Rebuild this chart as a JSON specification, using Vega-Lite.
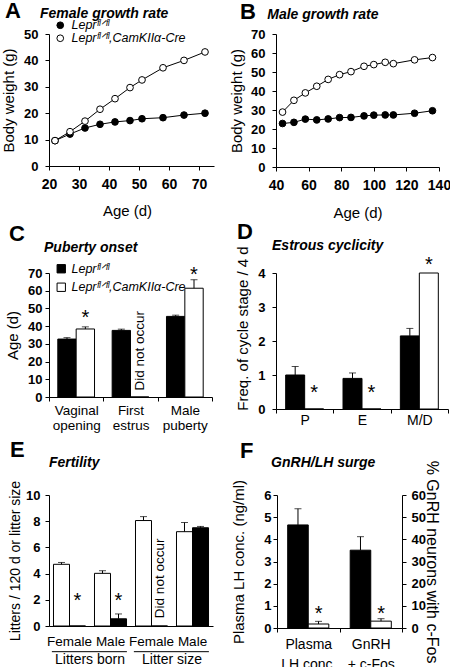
{
  "$schema": "https://vega.github.io/schema/vega-lite/v6.json",
  "padding": {"left": 1, "top": 0, "right": 0, "bottom": 0},
  "background": "white",
  "config": {
    "font": "Liberation Sans",
    "view": {"stroke": null},
    "axis": {"domainColor": "black", "domainWidth": 1, "tickColor": "black", "tickWidth": 1, "tickSize": 4, "labelColor": "black", "labelFont": "Liberation Sans", "labelFontSize": 13, "labelFontWeight": "bold", "titleColor": "black", "titleFont": "Liberation Sans", "titleFontSize": 15, "titleFontWeight": "normal", "grid": false, "labelOverlap": false, "labelFlush": false},
    "axisX": {"labelOverlap": false},
    "axisY": {"labelOverlap": false},
    "axisQuantitative": {"labelOverlap": false},
    "title": {"anchor": "start", "frame": "group", "font": "Liberation Sans", "fontSize": 22, "fontWeight": "bold", "color": "black", "subtitleFont": "Liberation Sans", "subtitleFontSize": 14, "subtitleFontWeight": "bold", "subtitleFontStyle": "italic", "subtitleColor": "black"},
    "legend": {"labelFont": "Liberation Sans", "labelColor": "black", "labelFontStyle": "italic", "labelFontSize": 12.5}
  },
  "datasets": {
    "growthF": [
      {"age": 22, "geno": "ctrl", "wt": 9.6}, {"age": 27, "geno": "ctrl", "wt": 12.1}, {"age": 32, "geno": "ctrl", "wt": 14.4}, {"age": 37, "geno": "ctrl", "wt": 15.8}, {"age": 42, "geno": "ctrl", "wt": 16.7}, {"age": 47, "geno": "ctrl", "wt": 17.2}, {"age": 51, "geno": "ctrl", "wt": 17.9}, {"age": 58, "geno": "ctrl", "wt": 18.3}, {"age": 65, "geno": "ctrl", "wt": 19.3}, {"age": 72, "geno": "ctrl", "wt": 20.0},
      {"age": 22, "geno": "cre", "wt": 9.6}, {"age": 27, "geno": "cre", "wt": 13.0}, {"age": 32, "geno": "cre", "wt": 17.0}, {"age": 37, "geno": "cre", "wt": 21.5}, {"age": 42, "geno": "cre", "wt": 25.5}, {"age": 47, "geno": "cre", "wt": 29.7}, {"age": 51, "geno": "cre", "wt": 32.6}, {"age": 58, "geno": "cre", "wt": 37.2}, {"age": 65, "geno": "cre", "wt": 40.0}, {"age": 72, "geno": "cre", "wt": 43.2}
    ],
    "starsF": [{"age": 32}, {"age": 37}, {"age": 42}, {"age": 47}, {"age": 51}, {"age": 58}, {"age": 65}, {"age": 72}],
    "growthM": [
      {"age": 44, "geno": "ctrl", "wt": 22.9}, {"age": 51, "geno": "ctrl", "wt": 23.5}, {"age": 58, "geno": "ctrl", "wt": 25.2}, {"age": 65, "geno": "ctrl", "wt": 24.8}, {"age": 72, "geno": "ctrl", "wt": 25.3}, {"age": 79, "geno": "ctrl", "wt": 26.0}, {"age": 86, "geno": "ctrl", "wt": 26.1}, {"age": 94, "geno": "ctrl", "wt": 26.9}, {"age": 100, "geno": "ctrl", "wt": 27.3}, {"age": 107, "geno": "ctrl", "wt": 27.4}, {"age": 112, "geno": "ctrl", "wt": 27.4}, {"age": 125, "geno": "ctrl", "wt": 28.3}, {"age": 136, "geno": "ctrl", "wt": 29.6},
      {"age": 44, "geno": "cre", "wt": 28.9}, {"age": 51, "geno": "cre", "wt": 35.1}, {"age": 58, "geno": "cre", "wt": 39.0}, {"age": 65, "geno": "cre", "wt": 42.5}, {"age": 72, "geno": "cre", "wt": 46.1}, {"age": 79, "geno": "cre", "wt": 48.6}, {"age": 86, "geno": "cre", "wt": 50.2}, {"age": 94, "geno": "cre", "wt": 53.0}, {"age": 100, "geno": "cre", "wt": 53.9}, {"age": 107, "geno": "cre", "wt": 55.1}, {"age": 112, "geno": "cre", "wt": 54.4}, {"age": 125, "geno": "cre", "wt": 56.4}, {"age": 136, "geno": "cre", "wt": 57.6}
    ],
    "starsM": [{"age": 44}, {"age": 51}, {"age": 58}, {"age": 65}, {"age": 72}, {"age": 79}, {"age": 86}, {"age": 94}, {"age": 100}, {"age": 107}, {"age": 112}, {"age": 125}, {"age": 136}],
    "puberty": [
      {"cat": "Vaginal opening", "geno": "ctrl", "mean": 32.7, "hi": 33.5},
      {"cat": "Vaginal opening", "geno": "cre", "mean": 38.4, "hi": 39.6, "star": 46.9},
      {"cat": "First estrus", "geno": "ctrl", "mean": 37.6, "hi": 38.3},
      {"cat": "First estrus", "geno": "cre", "mean": 0, "note": "Did not occur"},
      {"cat": "Male puberty", "geno": "ctrl", "mean": 45.5, "hi": 46.2},
      {"cat": "Male puberty", "geno": "cre", "mean": 61.4, "hi": 66.2, "star": 71.3}
    ],
    "estrous": [
      {"stage": "P", "geno": "ctrl", "mean": 1.0, "hi": 1.25},
      {"stage": "P", "geno": "cre", "mean": 0, "star": 0.59},
      {"stage": "E", "geno": "ctrl", "mean": 0.9, "hi": 1.06},
      {"stage": "E", "geno": "cre", "mean": 0, "star": 0.59},
      {"stage": "M/D", "geno": "ctrl", "mean": 2.15, "hi": 2.37},
      {"stage": "M/D", "geno": "cre", "mean": 4.0, "star": 4.36}
    ],
    "fertility": [
      {"cat": "Litters born|Female", "geno": "ctrl", "mean": 4.71, "hi": 4.85},
      {"cat": "Litters born|Female", "geno": "cre", "mean": 0, "star": 2.24},
      {"cat": "Litters born|Male", "geno": "ctrl", "mean": 4.02, "hi": 4.22},
      {"cat": "Litters born|Male", "geno": "cre", "mean": 0.55, "hi": 0.92, "star": 2.24},
      {"cat": "Litter size|Female", "geno": "ctrl", "mean": 8.05, "hi": 8.35},
      {"cat": "Litter size|Female", "geno": "cre", "mean": 0, "note": "Did not occur"},
      {"cat": "Litter size|Male", "geno": "ctrl", "mean": 7.2, "hi": 7.9},
      {"cat": "Litter size|Male", "geno": "cre", "mean": 7.5, "hi": 7.6}
    ],
    "fertGroups": [
      {"group": "Litters born", "first": "Litters born|Female", "last": "Litters born|Male"},
      {"group": "Litter size", "first": "Litter size|Female", "last": "Litter size|Male"}
    ],
    "surgeLH": [
      {"cat": "Plasma LH conc.", "geno": "ctrl", "mean": 4.65, "hi": 5.38},
      {"cat": "Plasma LH conc.", "geno": "cre", "mean": 0.18, "hi": 0.3, "star": 0.8}
    ],
    "surgeFos": [
      {"cat": "GnRH + c-Fos", "geno": "ctrl", "mean": 35.1, "hi": 41.2},
      {"cat": "GnRH + c-Fos", "geno": "cre", "mean": 3.1, "hi": 4.2, "star": 8.0}
    ]
  },
  "spacing": 1,
  "resolve": {"scale": {"fill": "independent", "xOffset": "independent"}, "legend": {"fill": "independent"}},
  "vconcat": [
    {
      "spacing": 14,
      "resolve": {"scale": {"fill": "independent", "xOffset": "independent"}, "legend": {"fill": "independent"}},
      "hconcat": [
        {
          "width": 165, "height": 132,
          "title": {"text": "A", "subtitle": "\u200b\u00a0\u00a0\u00a0\u00a0\u00a0\u00a0\u00a0\u00a0\u00a0Female growth rate", "dx": -44, "subtitlePadding": -15.6, "offset": -4},
          "encoding": {
            "x": {"field": "age", "type": "quantitative", "scale": {"domain": [20, 75], "nice": false, "zero": false}, "axis": {"values": [20, 30, 40, 50, 60, 70], "title": "Age (d)", "labelFontSize": 14, "labelFontWeight": "bold", "labelOverlap": false, "labelFlush": false, "labelPadding": 7, "titleX": 78, "titleY": 44, "titleBaseline": "middle"}},
            "y": {"field": "wt", "type": "quantitative", "scale": {"domain": [0, 50], "nice": false}, "axis": {"values": [0, 10, 20, 30, 40, 50], "title": "Body weight (g)", "labelFontSize": 13, "labelFontWeight": "bold", "labelOverlap": false, "labelFlush": false, "labelPadding": 7, "titleX": -40.5, "titleBaseline": "middle"}}
          },
          "layer": [
            {"data": {"name": "growthF"}, "mark": {"type": "line", "color": "black", "strokeWidth": 1},
             "encoding": {"detail": {"field": "geno"}}},
            {"data": {"name": "growthF"}, "mark": {"type": "point", "shape": "circle", "size": 45, "stroke": "black", "strokeWidth": 1, "opacity": 1},
             "encoding": {
               "fill": {"field": "geno", "type": "nominal", "scale": {"domain": ["ctrl", "cre"], "range": ["black", "white"]},
                 "legend": {"title": null, "orient": "none", "legendX": 5, "legendY": -15, "symbolType": "circle", "symbolSize": 45, "symbolStrokeColor": "black", "symbolStrokeWidth": 1, "labelOffset": 5, "rowPadding": -0.5, "padding": 0,
                   "labelExpr": "datum.value == 'ctrl' ? 'Lepr\u1da0\u02e1\u141f\u1da0\u02e1' : 'Lepr\u1da0\u02e1\u141f\u1da0\u02e1,CamKII\u03b1-Cre'"}}}},
            {"data": {"name": "starsF"}, "mark": {"type": "text", "text": "*", "fontSize": 15, "color": "#555555", "dy": 3},
             "encoding": {"y": {"datum": 4.9, "type": "quantitative", "scale": {"domain": [0, 50], "nice": false}, "axis": {"values": [0, 10, 20, 30, 40, 50], "title": "Body weight (g)", "labelFontSize": 13, "labelFontWeight": "bold", "labelOverlap": false, "labelFlush": false, "labelPadding": 7, "titleX": -40.5, "titleBaseline": "middle"}}}}
          ]
        },
        {
          "width": 163, "height": 133,
          "title": {"text": "B", "subtitle": "\u200b\u00a0\u00a0\u00a0\u00a0\u00a0\u00a0\u00a0Male growth rate", "dx": -36, "subtitlePadding": -15.6, "offset": 4},
          "encoding": {
            "x": {"field": "age", "type": "quantitative", "scale": {"domain": [40, 140], "nice": false, "zero": false}, "axis": {"values": [40, 60, 80, 100, 120, 140], "title": "Age (d)", "labelFontSize": 14, "labelFontWeight": "bold", "labelOverlap": false, "labelFlush": false, "labelPadding": 7, "titleY": 45, "titleBaseline": "middle"}},
            "y": {"field": "wt", "type": "quantitative", "scale": {"domain": [0, 70], "nice": false}, "axis": {"values": [0, 10, 20, 30, 40, 50, 60, 70], "title": "Body weight (g)", "labelFontSize": 13, "labelFontWeight": "bold", "labelOverlap": false, "labelFlush": false, "labelPadding": 7, "titleX": -40, "titleBaseline": "middle"}}
          },
          "layer": [
            {"data": {"name": "growthM"}, "mark": {"type": "line", "color": "black", "strokeWidth": 1},
             "encoding": {"detail": {"field": "geno"}}},
            {"data": {"name": "growthM"}, "mark": {"type": "point", "shape": "circle", "size": 45, "stroke": "black", "strokeWidth": 1, "opacity": 1},
             "encoding": {"fill": {"field": "geno", "type": "nominal", "scale": {"domain": ["ctrl", "cre"], "range": ["black", "white"]}, "legend": null}}},
            {"data": {"name": "starsM"}, "mark": {"type": "text", "text": "*", "fontSize": 15, "color": "#555555", "dy": 3},
             "encoding": {"y": {"datum": 5.6, "type": "quantitative", "scale": {"domain": [0, 70], "nice": false}, "axis": {"values": [0, 10, 20, 30, 40, 50, 60, 70], "title": "Body weight (g)", "labelFontSize": 13, "labelFontWeight": "bold", "labelOverlap": false, "labelFlush": false, "labelPadding": 7, "titleX": -40, "titleBaseline": "middle"}}}}
          ]
        }
      ]
    },
    {
      "spacing": 7,
      "resolve": {"scale": {"fill": "independent", "xOffset": "independent"}, "legend": {"fill": "independent"}},
      "vconcat": [
        {
          "spacing": 21,
          "resolve": {"scale": {"fill": "independent", "xOffset": "independent"}, "legend": {"fill": "independent"}},
          "hconcat": [
            {
              "width": 163, "height": 124,
              "title": {"text": "C", "subtitle": "\u200b\u00a0\u00a0\u00a0\u00a0\u00a0\u00a0\u00a0\u00a0\u00a0Puberty onset", "dx": -40, "subtitlePadding": -5.6, "offset": 6.7},
              "data": {"name": "puberty"},
              "encoding": {
                "x": {"field": "cat", "type": "nominal", "scale": {"domain": ["Vaginal opening", "First estrus", "Male puberty"], "paddingInner": 0, "paddingOuter": 0}, "axis": {"title": null, "labelFontWeight": "normal", "labelFontSize": 13.5, "labelOverlap": false, "labelAngle": 0, "labelExpr": "datum.label == 'Vaginal opening' ? ['Vaginal', 'opening'] : datum.label == 'First estrus' ? ['First', 'estrus'] : datum.label == 'Male puberty' ? ['Male', 'puberty'] : ''", "labelLineHeight": 15, "labelPadding": 2, "tickBand": "extent"}},
                "xOffset": {"field": "geno", "type": "nominal", "scale": {"domain": ["ctrl", "cre"], "paddingInner": 0, "paddingOuter": 0.48}},
                "y": {"field": "mean", "type": "quantitative", "title": "Age (d)", "scale": {"domain": [0, 70], "nice": false}, "axis": {"values": [0, 10, 20, 30, 40, 50, 60, 70], "labelFontSize": 13, "labelFontWeight": "bold", "labelOverlap": false, "labelPadding": 3, "titleX": -36.5, "titleBaseline": "middle"}}
              },
              "layer": [
                {"mark": {"type": "bar", "stroke": "black", "strokeWidth": 1},
                 "encoding": {
                   "fill": {"field": "geno", "type": "nominal", "scale": {"domain": ["ctrl", "cre"], "range": ["black", "white"]},
                     "legend": {"title": null, "orient": "none", "legendX": 6, "legendY": -10.5, "symbolType": "square", "symbolSize": 70, "symbolStrokeColor": "black", "symbolStrokeWidth": 1, "labelOffset": 4, "rowPadding": 5.5, "padding": 0,
                       "labelExpr": "datum.value == 'ctrl' ? 'Lepr\u1da0\u02e1\u141f\u1da0\u02e1' : 'Lepr\u1da0\u02e1\u141f\u1da0\u02e1,CamKII\u03b1-Cre'"}}}},
                {"transform": [{"filter": "isValid(datum.hi)"}], "mark": {"type": "rule", "color": "black", "strokeWidth": 1},
                 "encoding": {"y2": {"field": "hi"}}},
                {"transform": [{"filter": "isValid(datum.hi)"}], "mark": {"type": "tick", "color": "black", "orient": "horizontal", "size": 7, "thickness": 1},
                 "encoding": {"y": {"field": "hi", "type": "quantitative", "title": "Age (d)", "scale": {"domain": [0, 70], "nice": false}, "axis": {"values": [0, 10, 20, 30, 40, 50, 60, 70], "labelFontSize": 13, "labelFontWeight": "bold", "labelOverlap": false, "labelPadding": 3, "titleX": -36.5, "titleBaseline": "middle"}}}},
                {"transform": [{"filter": "isValid(datum.star)"}], "mark": {"type": "text", "text": "*", "fontSize": 20, "dy": 4, "color": "black"},
                 "encoding": {"y": {"field": "star", "type": "quantitative", "title": "Age (d)", "scale": {"domain": [0, 70], "nice": false}, "axis": {"values": [0, 10, 20, 30, 40, 50, 60, 70], "labelFontSize": 13, "labelFontWeight": "bold", "labelOverlap": false, "labelPadding": 3, "titleX": -36.5, "titleBaseline": "middle"}}}},
                {"transform": [{"filter": "isValid(datum.note)"}], "mark": {"type": "text", "angle": 270, "align": "left", "baseline": "middle", "fontSize": 13.5, "color": "black"},
                 "encoding": {"y": {"datum": 3.7, "type": "quantitative", "title": "Age (d)", "scale": {"domain": [0, 70], "nice": false}, "axis": {"values": [0, 10, 20, 30, 40, 50, 60, 70], "labelFontSize": 13, "labelFontWeight": "bold", "labelOverlap": false, "labelPadding": 3, "titleX": -36.5, "titleBaseline": "middle"}}, "text": {"field": "note"}}}
              ]
            },
            {
              "width": 172, "height": 136,
              "title": {"text": "D", "subtitle": "\u200b\u00a0\u00a0\u00a0\u00a0\u00a0\u00a0\u00a0\u00a0\u00a0Estrous cyclicity", "dx": -39, "subtitlePadding": -5.6, "offset": -7.8},
              "data": {"name": "estrous"},
              "encoding": {
                "x": {"field": "stage", "type": "nominal", "scale": {"domain": ["P", "E", "M/D"], "paddingInner": 0, "paddingOuter": 0}, "axis": {"title": null, "labelFontWeight": "normal", "labelFontSize": 14, "labelOverlap": false, "labelAngle": 0, "labelPadding": 0, "tickBand": "extent"}},
                "xOffset": {"field": "geno", "type": "nominal", "scale": {"domain": ["ctrl", "cre"], "paddingInner": 0, "paddingOuter": 0.51}},
                "y": {"field": "mean", "type": "quantitative", "title": "Freq. of cycle stage / 4 d", "scale": {"domain": [0, 4], "nice": false}, "axis": {"values": [0, 1, 2, 3, 4], "labelFontSize": 13, "labelFontWeight": "bold", "labelOverlap": false, "labelPadding": 7, "titleX": -34, "titleY": 55, "titleBaseline": "middle"}}
              },
              "layer": [
                {"mark": {"type": "bar", "stroke": "black", "strokeWidth": 1},
                 "encoding": {"fill": {"field": "geno", "type": "nominal", "scale": {"domain": ["ctrl", "cre"], "range": ["black", "white"]}, "legend": null}}},
                {"transform": [{"filter": "isValid(datum.hi)"}], "mark": {"type": "rule", "color": "black", "strokeWidth": 1},
                 "encoding": {"y2": {"field": "hi"}}},
                {"transform": [{"filter": "isValid(datum.hi)"}], "mark": {"type": "tick", "color": "black", "orient": "horizontal", "size": 7, "thickness": 1},
                 "encoding": {"y": {"field": "hi", "type": "quantitative", "title": "Freq. of cycle stage / 4 d", "scale": {"domain": [0, 4], "nice": false}, "axis": {"values": [0, 1, 2, 3, 4], "labelFontSize": 13, "labelFontWeight": "bold", "labelOverlap": false, "labelPadding": 7, "titleX": -34, "titleY": 55, "titleBaseline": "middle"}}}},
                {"transform": [{"filter": "isValid(datum.star)"}], "mark": {"type": "text", "text": "*", "fontSize": 20, "dy": 4, "color": "black"},
                 "encoding": {"y": {"field": "star", "type": "quantitative", "title": "Freq. of cycle stage / 4 d", "scale": {"domain": [0, 4], "nice": false}, "axis": {"values": [0, 1, 2, 3, 4], "labelFontSize": 13, "labelFontWeight": "bold", "labelOverlap": false, "labelPadding": 7, "titleX": -34, "titleY": 55, "titleBaseline": "middle"}}}}
              ]
            }
          ]
        },
        {
          "spacing": 17,
          "resolve": {"scale": {"fill": "independent", "xOffset": "independent"}, "legend": {"fill": "independent"}},
          "hconcat": [
            {
              "width": 164, "height": 131,
              "title": {"text": "E", "subtitle": "\u200b\u00a0\u00a0\u00a0\u00a0\u00a0\u00a0\u00a0\u00a0\u00a0\u00a0Fertility", "dx": -39, "subtitlePadding": -6.4, "offset": 9.5},
              "resolve": {"axis": {"y": "independent"}},
              "layer": [
                {"data": {"name": "fertility"}, "mark": {"type": "bar", "stroke": "black", "strokeWidth": 1},
                 "encoding": {
                   "x": {"field": "cat", "type": "nominal", "scale": {"domain": ["Litters born|Female", "Litters born|Male", "Litter size|Female", "Litter size|Male"], "paddingInner": 0, "paddingOuter": 0}, "axis": {"title": null, "labelFontWeight": "normal", "labelFontSize": 13.5, "labelOverlap": false, "labelAngle": 0, "labelExpr": "split(datum.label, '|')[1]", "labelPadding": 8, "ticks": false}},
                   "xOffset": {"field": "geno", "type": "nominal", "scale": {"domain": ["ctrl", "cre"], "paddingInner": 0, "paddingOuter": 0.28}},
                   "y": {"field": "mean", "type": "quantitative", "title": "Litters / 120 d or litter size", "scale": {"domain": [0, 10], "nice": false}, "axis": {"values": [0, 2, 4, 6, 8, 10], "labelFontSize": 13, "labelFontWeight": "bold", "labelOverlap": false, "labelPadding": 5, "titleFontSize": 14, "titleX": -34, "titleBaseline": "middle"}},
                   "fill": {"field": "geno", "type": "nominal", "scale": {"domain": ["ctrl", "cre"], "range": ["white", "black"]}, "legend": null}}},
                {"data": {"name": "fertility"}, "transform": [{"filter": "isValid(datum.hi)"}], "mark": {"type": "rule", "color": "black", "strokeWidth": 1},
                 "encoding": {"x": {"field": "cat", "type": "nominal"}, "xOffset": {"field": "geno", "type": "nominal"}, "y": {"field": "mean", "type": "quantitative", "axis": null}, "y2": {"field": "hi"}}},
                {"data": {"name": "fertility"}, "transform": [{"filter": "isValid(datum.hi)"}], "mark": {"type": "tick", "color": "black", "orient": "horizontal", "size": 7, "thickness": 1},
                 "encoding": {"x": {"field": "cat", "type": "nominal"}, "xOffset": {"field": "geno", "type": "nominal"}, "y": {"field": "hi", "type": "quantitative", "axis": null}}},
                {"data": {"name": "fertility"}, "transform": [{"filter": "isValid(datum.star)"}], "mark": {"type": "text", "text": "*", "fontSize": 20, "dy": 4, "color": "black"},
                 "encoding": {"x": {"field": "cat", "type": "nominal"}, "xOffset": {"field": "geno", "type": "nominal"}, "y": {"field": "star", "type": "quantitative", "axis": null}}},
                {"data": {"name": "fertility"}, "transform": [{"filter": "isValid(datum.note)"}], "mark": {"type": "text", "angle": 270, "align": "left", "baseline": "middle", "fontSize": 13.5, "color": "black"},
                 "encoding": {"x": {"field": "cat", "type": "nominal"}, "xOffset": {"field": "geno", "type": "nominal"}, "y": {"datum": 0.6, "type": "quantitative", "axis": null}, "text": {"field": "note"}}},
                {"data": {"name": "fertGroups"}, "mark": {"type": "rule", "color": "black", "strokeWidth": 1},
                 "encoding": {"x": {"field": "first", "type": "nominal", "bandPosition": 0.07}, "x2": {"field": "last", "bandPosition": 0.9}, "y": {"datum": -1.96, "type": "quantitative", "axis": null}}},
                {"data": {"name": "fertGroups"}, "mark": {"type": "text", "fontSize": 14, "baseline": "middle", "color": "black"},
                 "encoding": {"x": {"field": "first", "type": "nominal", "bandPosition": 1}, "y": {"datum": -2.62, "type": "quantitative", "axis": null}, "text": {"field": "group"}}}
              ]
            },
            {
              "width": 125, "height": 133,
              "title": {"text": "F", "subtitle": "\u200b\u00a0\u00a0\u00a0\u00a0\u00a0\u00a0\u00a0\u00a0GnRH/LH surge", "dx": -37, "subtitlePadding": -6.4, "offset": -11},
              "encoding": {
                "x": {"field": "cat", "type": "nominal", "scale": {"domain": ["Plasma LH conc.", "GnRH + c-Fos"], "paddingInner": 0, "paddingOuter": 0}, "axis": {"title": null, "labelFontWeight": "normal", "labelFontSize": 14, "labelOverlap": false, "labelAngle": 0, "labelExpr": "datum.label == 'Plasma LH conc.' ? ['Plasma', 'LH conc.'] : datum.label == 'GnRH + c-Fos' ? ['GnRH', '+ c-Fos'] : ''", "labelLineHeight": 20, "labelPadding": 5, "tickBand": "extent"}},
                "xOffset": {"field": "geno", "type": "nominal", "scale": {"domain": ["ctrl", "cre"], "paddingInner": 0, "paddingOuter": 0.52}}
              },
              "layer": [
                {
                  "data": {"name": "surgeLH"},
                  "encoding": {
                    "y": {"field": "mean", "type": "quantitative", "title": "Plasma LH conc. (ng/ml)", "scale": {"domain": [0, 6], "nice": false}, "axis": {"orient": "left", "values": [0, 1, 2, 3, 4, 5, 6], "labelFontSize": 13, "labelFontWeight": "bold", "labelOverlap": false, "labelPadding": 2, "titleX": -39, "titleBaseline": "middle"}}
                  },
                  "layer": [
                    {"mark": {"type": "bar", "stroke": "black", "strokeWidth": 1},
                     "encoding": {"fill": {"field": "geno", "type": "nominal", "scale": {"domain": ["ctrl", "cre"], "range": ["black", "white"]}, "legend": null}}},
                    {"mark": {"type": "rule", "color": "black", "strokeWidth": 1},
                     "encoding": {"y2": {"field": "hi"}}},
                    {"mark": {"type": "tick", "color": "black", "orient": "horizontal", "size": 7, "thickness": 1},
                     "encoding": {"y": {"field": "hi", "type": "quantitative", "title": "Plasma LH conc. (ng/ml)", "scale": {"domain": [0, 6], "nice": false}, "axis": {"orient": "left", "values": [0, 1, 2, 3, 4, 5, 6], "labelFontSize": 13, "labelFontWeight": "bold", "labelOverlap": false, "labelPadding": 2, "titleX": -39, "titleBaseline": "middle"}}}},
                    {"transform": [{"filter": "isValid(datum.star)"}], "mark": {"type": "text", "text": "*", "fontSize": 20, "dy": 4, "color": "black"},
                     "encoding": {"y": {"field": "star", "type": "quantitative", "title": "Plasma LH conc. (ng/ml)", "scale": {"domain": [0, 6], "nice": false}, "axis": {"orient": "left", "values": [0, 1, 2, 3, 4, 5, 6], "labelFontSize": 13, "labelFontWeight": "bold", "labelOverlap": false, "labelPadding": 2, "titleX": -39, "titleBaseline": "middle"}}}}
                  ]
                },
                {
                  "data": {"name": "surgeFos"},
                  "encoding": {
                    "y": {"field": "mean", "type": "quantitative", "title": "% GnRH neurons with c-Fos", "scale": {"domain": [0, 60], "nice": false}, "axis": {"orient": "right", "values": [0, 10, 20, 30, 40, 50, 60], "labelFontSize": 13, "labelFontWeight": "bold", "labelOverlap": false, "labelPadding": 5, "titleFontSize": 16, "titleX": 29, "titleBaseline": "middle"}}
                  },
                  "layer": [
                    {"mark": {"type": "bar", "stroke": "black", "strokeWidth": 1},
                     "encoding": {"fill": {"field": "geno", "type": "nominal", "scale": {"domain": ["ctrl", "cre"], "range": ["black", "white"]}, "legend": null}}},
                    {"mark": {"type": "rule", "color": "black", "strokeWidth": 1},
                     "encoding": {"y2": {"field": "hi"}}},
                    {"mark": {"type": "tick", "color": "black", "orient": "horizontal", "size": 7, "thickness": 1},
                     "encoding": {"y": {"field": "hi", "type": "quantitative", "title": "% GnRH neurons with c-Fos", "scale": {"domain": [0, 60], "nice": false}, "axis": {"orient": "right", "values": [0, 10, 20, 30, 40, 50, 60], "labelFontSize": 13, "labelFontWeight": "bold", "labelOverlap": false, "labelPadding": 5, "titleFontSize": 16, "titleX": 29, "titleBaseline": "middle"}}}},
                    {"transform": [{"filter": "isValid(datum.star)"}], "mark": {"type": "text", "text": "*", "fontSize": 20, "dy": 4, "color": "black"},
                     "encoding": {"y": {"field": "star", "type": "quantitative", "title": "% GnRH neurons with c-Fos", "scale": {"domain": [0, 60], "nice": false}, "axis": {"orient": "right", "values": [0, 10, 20, 30, 40, 50, 60], "labelFontSize": 13, "labelFontWeight": "bold", "labelOverlap": false, "labelPadding": 5, "titleFontSize": 16, "titleX": 29, "titleBaseline": "middle"}}}}
                  ]
                }
              ],
              "resolve": {"scale": {"y": "independent"}, "axis": {"y": "independent"}}
            }
          ]
        }
      ]
    }
  ]
}
